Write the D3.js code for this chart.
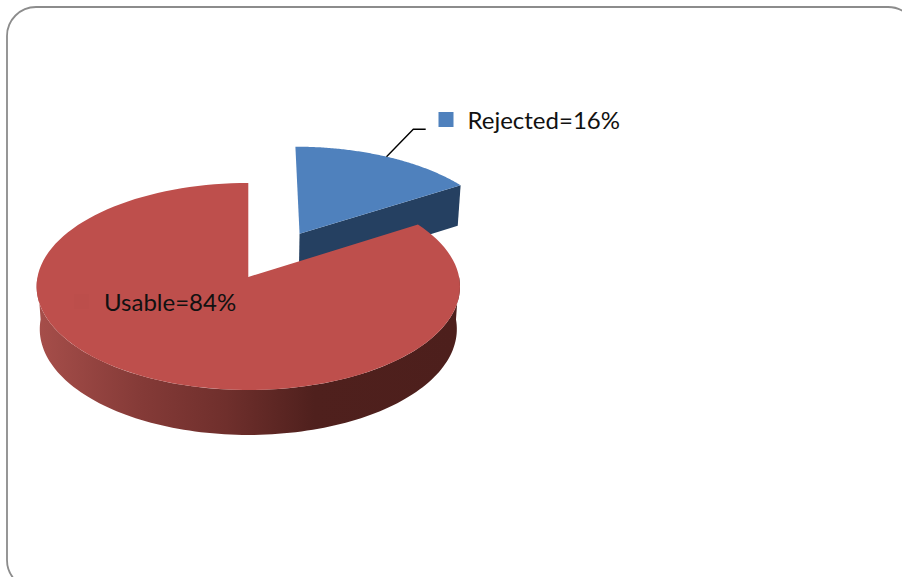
<!DOCTYPE html>
<html>
<head>
<meta charset="utf-8">
<script src="https://cdn.jsdelivr.net/npm/d3@7"></script>
<style>
html, body { margin: 0; padding: 0; background: #fff; overflow: hidden; }
text { font-family: Lato, "Noto Sans", sans-serif; font-size: 24px; fill: #111; }
</style>
</head>
<body>
<script>
var categories = ["Rejected", "Usable"];
var values = [16, 84];
var colours = ["#4f81bd", "#be4f4c"];
var sideColours = ["#254061", "#4d1f1c"];
var explode = [0.5, 0];
var labelPos = [[467.5, 129], [104, 311]];
var keyPos = [[438.5, 112], [74, 294]];
var keyColours = ["#4f81bd", "#bc4e4b"];

var width = 902, height = 577;

var svg = d3.select("body").append("svg")
	.attr("width", width)
	.attr("height", height);

// frame runs off the right and bottom of the picture
svg.append("rect")
	.attr("x", 7).attr("y", 7)
	.attr("width", 910).attr("height", 582)
	.attr("rx", 29).attr("ry", 29)
	.attr("fill", "#fff")
	.attr("stroke", "#8c8c8c")
	.attr("stroke-width", 1.8);

// perspective of the pie plane
var cx = 248.3, cy = 277, rx = 210.8, ry = 102.6, persp = 0.0918, depth = 43.2, shrink = 0.015;

function project(u, v, z) {
	var w = 1 - persp * v + shrink * z;
	return [cx + rx * u / w, cy + (ry * v + depth * z) / w];
}

var slices = d3.pie().sort(null)(values).map(function(s, i) {
	var mid = (s.startAngle + s.endAngle) / 2;
	s.i = i;
	s.du = explode[i] * Math.sin(mid) * 1.05;
	s.dv = -explode[i] * Math.cos(mid);
	return s;
});

function point(s, angle, r, z) {
	return project(s.du + r * Math.sin(angle), s.dv - r * Math.cos(angle), z);
}

function rim(s, a0, a1, z) {
	return d3.range(0, 121).map(function(k) {
		return point(s, a0 + (a1 - a0) * k / 120, 1, z);
	});
}

var line = d3.line();

var grad = svg.append("defs").append("linearGradient")
	.attr("id", "redSide")
	.attr("gradientUnits", "userSpaceOnUse")
	.attr("x1", 38).attr("x2", 457).attr("y1", 0).attr("y2", 0);
[[0, "#a64e4a"], [0.25, "#843a37"], [0.45, "#6f2f2c"], [0.66, "#4f201d"], [1, "#4d1f1c"]].forEach(function(d) {
	grad.append("stop").attr("offset", d[0]).attr("stop-color", d[1]);
});

var blue = slices[0], red = slices[1];

// red outer wall, left to right along the front
var a0 = Math.PI * 1.5, a1 = Math.PI * 0.5;
svg.append("path")
	.attr("d", line(rim(red, a0, a1, 0).concat(rim(red, a1, a0, 1))) + "Z")
	.attr("fill", "url(#redSide)");

// blue walls
svg.append("path")
	.attr("d", line([
		point(blue, 0, 0, 0), point(blue, blue.endAngle, 1, 0),
		point(blue, blue.endAngle, 1, 1), point(blue, 0, 0, 1)
	]) + "Z")
	.attr("fill", sideColours[0]);

// tops
svg.selectAll("path.top").data(slices).enter().append("path")
	.attr("class", "top")
	.attr("d", function(s) {
		return line([point(s, 0, 0, 0)].concat(rim(s, s.startAngle, s.endAngle, 0))) + "Z";
	})
	.attr("fill", function(s) { return colours[s.i]; });

// leader line of the rejected label
var mid = (blue.startAngle + blue.endAngle) / 2;
var from = point(blue, mid, 1, 0);
svg.append("path")
	.attr("d", line([from, [413.3, 129.3], [425.7, 129.3]]))
	.attr("fill", "none")
	.attr("stroke", "#000")
	.attr("stroke-width", 1.4);

// labels with their keys
svg.selectAll("rect.key").data(categories).enter().append("rect")
	.attr("class", "key")
	.attr("x", function(d, i) { return keyPos[i][0]; })
	.attr("y", function(d, i) { return keyPos[i][1]; })
	.attr("width", 15).attr("height", 15)
	.attr("fill", function(d, i) { return keyColours[i]; });

svg.selectAll("text.label").data(categories).enter().append("text")
	.attr("class", "label")
	.attr("x", function(d, i) { return labelPos[i][0]; })
	.attr("y", function(d, i) { return labelPos[i][1]; })
	.text(function(d, i) { return d + "=" + values[i] + "%"; });
</script>
</body>
</html>
